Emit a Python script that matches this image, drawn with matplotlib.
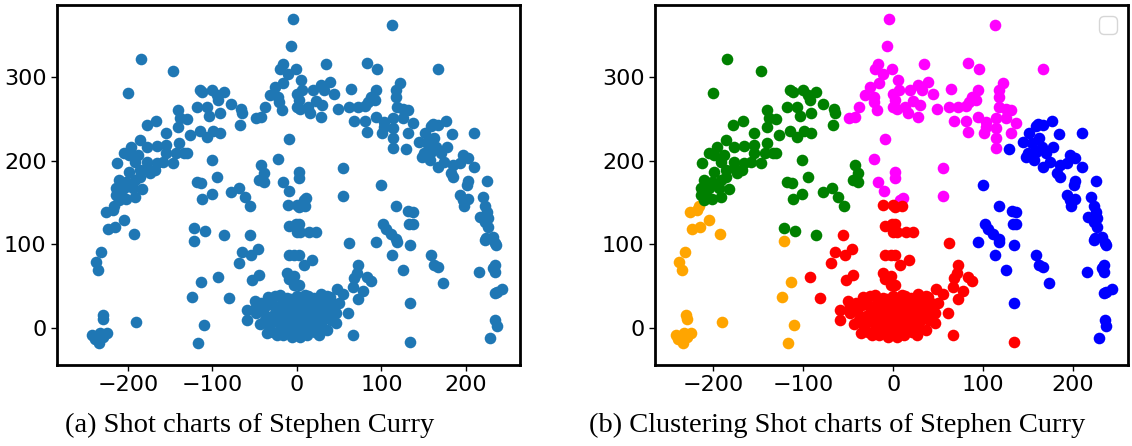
import matplotlib
matplotlib.use("Agg")
import matplotlib.pyplot as plt

# shot locations, grouped by the cluster colour in (b)
orange_x = [-216, -226, -218, -205, -224, -215, -193, -232, -238, -235, -230, -229, -190,
            -242, -233, -225, -239, -234, -229, -122, -114, -124, -110, -117]
orange_y = [146, 139, 141, 129, 118, 121, 113, 91, 79, 69, 16, 11, 7,
            -8, -6, -6, -13, -18, -11, 104, 55, 37, 4, -18]

green_x = [-185, -147, -200, -141, -138, -167, -178, -115, -112, -100, -95, -86, -93, -118,
           -107, -104, -91, -78, -66, -65, -130, -155, -141, -186, -196, -177, -166, -155,
           -140, -134, -205, -199, -188, -155, -143, -213, -192, -177, -166, -158, -147, -199,
           -186, -177, -174, -168, -211, -202, -192, -186, -214, -205, -194, -183, -214, -207,
           -192, -211, -202, -127, -115, -107, -99, -91, -67, -130, -101, -43, -39, -45,
           -39, -95, -118, -113, -78, -68, -101, -112, -62, -55, -122, -109, -86]
green_y = [321, 307, 281, 260, 251, 248, 243, 285, 282, 285, 278, 282, 272, 264,
           264, 254, 257, 268, 262, 257, 250, 233, 240, 225, 216, 216, 217, 219,
           221, 209, 209, 207, 207, 209, 209, 197, 198, 198, 197, 198, 197, 186,
           189, 191, 185, 189, 177, 174, 177, 180, 167, 167, 167, 166, 159, 157,
           157, 153, 154, 231, 236, 228, 236, 233, 243, 209, 201, 195, 185, 177,
           174, 180, 174, 173, 163, 167, 160, 154, 157, 146, 120, 116, 111]

magenta_x = [-5, -7, -17, -20, -11, -1, -16, -26, -32, -22, -21, 0, 0, -38, -18, -43, -49,
             113, 34, 83, 95, 5, 6, 19, 28, 39, 32, 44, 64, 122, 117, 94, 88, 92, 117, 2,
             22, 30, 13, 4, 49, 62, 72, 81, 84, 118, 125, 131, 16, 28, 67, 81, 94, 103, 114,
             125, 167, 137, 83, 101, 103, 114, 114, 131, 114, 2, 2, 55, 55, 8, 11,
             -9, -22, -17, -10]
magenta_y = [369, 337, 316, 310, 303, 310, 293, 288, 278, 276, 270, 280, 264, 264, 260, 252, 251,
             362, 315, 317, 309, 296, 284, 285, 290, 294, 284, 280, 286, 293, 284, 284, 276, 272, 276, 272,
             271, 266, 264, 262, 262, 264, 264, 265, 270, 264, 262, 260, 257, 252, 248, 248, 252, 246, 251,
             251, 310, 245, 234, 233, 240, 239, 227, 233, 215, 186, 179, 191, 158, 153, 155,
             226, 202, 174, 164]

blue_x = [161, 176, 167, 129, 100, 117, 132, 102, 105, 111, 117, 133, 94, 159, 151, 184, 210,
          144, 154, 162, 165, 178, 150, 159, 170, 148, 157, 174, 185, 196, 202, 193, 210, 167,
          182, 185, 202, 201, 225, 193, 196, 202, 198, 220, 223, 225, 217, 226, 223, 226, 224,
          232, 235, 137, 137, 113, 118, 125, 134, 134, 223, 236, 159, 162, 167, 173, 215, 232,
          234, 234, 243, 234, 237, 235, 237, 229]
blue_y = [244, 247, 243, 214, 171, 146, 140, 125, 119, 113, 107, 125, 103, 241, 233, 232, 233,
          222, 221, 227, 216, 216, 209, 210, 209, 205, 201, 198, 195, 207, 203, 197, 193, 193,
          185, 180, 176, 171, 176, 159, 153, 154, 146, 157, 146, 139, 133, 131, 127, 121, 108,
          109, 102, 139, 125, 87, 103, 70, 99, 30, 105, 99, 87, 75, 73, 54, 67, 72,
          76, 67, 47, 42, 43, 10, 2, -12]

red_x = [-56, -11, 0, -9, -1, 0, 2, 10, 2, 4, 14, 22, 62, -65, -54, -46, -69, -93, -45, -53,
         -81, -9, -3, -12, -9, -3, -3, -34, -26, -7, -59, -59, -48, 2, 8, 18, 72, 71, 68, 83,
         88, 66, 78, 2, 13, 28, 47, 55, 39, 44, 72, 61, 46, 66, 4, 22, 134,
         -40, -38, -35, -33, -30, -28, -26, -25, -22, -20, -18, -17, -15, -14, -12, -10, -9,
         -8, -6, -5, -4, -2, -1, 0, 1, 2, 3, 4, 5, 6, 7, 8, 9, 10, 11, 12, 13, 14, 15, 16,
         17, 18, 19, 20, 21, 22, 24, 25, 26, 28, 30, 32, 34, 36, 38, 40, -36, -24, -16, -6,
         4, 12, 26, -44, -42, -32, -20, -12, 0, 10, 20, 30, 36, 42, 46, 50, -48, -50]
red_y = [111, 147, 147, 122, 125, 115, 145, 146, 125, 115, 115, 115, 102, 91, 87, 94, 78, 61, 63, 57,
         36, 87, 87, 66, 59, 62, 51, 37, 38, 35, 22, 10, 25, 87, 76, 82, 75, 66, 60, 61,
         56, 49, 44, 51, 39, 41, 47, 41, 37, 25, 35, 18, 6, -8, -2, -2, -17,
         20, 10, 28, 2, 15, -4, 25, 8, 18, -2, 30, 12, 5, 22, -5, 15, 28,
         6, 20, -3, 10, 25, 2, 16, -6, 8, 30, 20, 0, 12, 25, -4, 18, 5, 28, 14, -2, 22, 8, 32,
         0, 16, 26, 6, -4, 20, 12, 30, 2, 18, 8, 26, 14, -2, 22, 10, -6, -8, -8, -10,
         -10, -8, -8, 5, 30, 35, 40, 36, 38, 40, 36, 34, 38, 30, 18, 30, 18, 32]

clusters = [
    (orange_x, orange_y, "orange"),
    (green_x, green_y, "green"),
    (magenta_x, magenta_y, "magenta"),
    (blue_x, blue_y, "blue"),
    (red_x, red_y, "red"),
]

all_x = orange_x + green_x + magenta_x + blue_x + red_x
all_y = orange_y + green_y + magenta_y + blue_y + red_y

W, H = 1132, 446
fig = plt.figure(figsize=(W / 100, H / 100), dpi=100)
ax1 = fig.add_axes([57 / W, (H - 365) / H, 463 / W, 360 / H])
ax2 = fig.add_axes([655 / W, (H - 365) / H, 473 / W, 360 / H])

ax1.scatter(all_x, all_y, s=70, color="#1f77b4", linewidths=0)
for xs, ys, c in clusters:
    ax2.scatter(xs, ys, s=70, color=c, linewidths=0)

ax1.set_xlim(-284, 264)
ax2.set_xlim(-265, 261)
for ax in (ax1, ax2):
    ax.set_ylim(-44, 386)
    ax.set_xticks([-200, -100, 0, 100, 200])
    ax.set_yticks([0, 100, 200, 300])
    ax.tick_params(labelsize=16, length=4, width=1)
    for sp in ax.spines.values():
        sp.set_linewidth(2)

# empty legend box, as in the original
ax2.legend(handles=[], loc="upper right", frameon=True, fontsize=16)

cap_font = {"family": "Liberation Serif", "size": 20.5}
fig.text(250 / W, 1 - 425 / H, "(a) Shot charts of Stephen Curry", ha="center", va="center", **cap_font)
fig.text(837 / W, 1 - 425 / H, "(b) Clustering Shot charts of Stephen Curry", ha="center", va="center", **cap_font)

fig.savefig("out.png", dpi=100)
